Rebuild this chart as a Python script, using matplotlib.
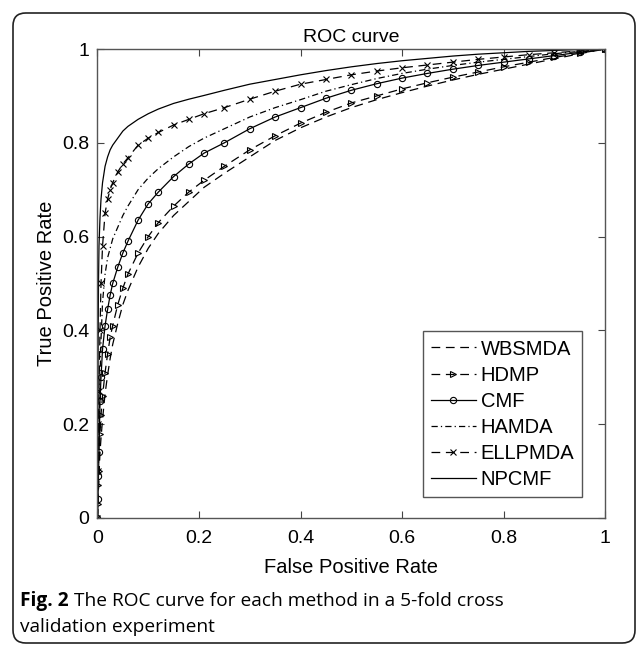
import numpy as np
import matplotlib
matplotlib.use("Agg")
import matplotlib.pyplot as plt
from matplotlib.patches import FancyBboxPatch

plt.rcParams['font.family'] = ['Liberation Sans', 'DejaVu Sans']

# false positive rate grid
fpr = [0, 0.001, 0.002, 0.003, 0.005, 0.007, 0.01, 0.015, 0.02, 0.025, 0.03,
       0.04, 0.05, 0.06, 0.08, 0.1, 0.12, 0.15, 0.18, 0.21, 0.25, 0.3, 0.35,
       0.4, 0.45, 0.5, 0.55, 0.6, 0.65, 0.7, 0.75, 0.8, 0.85, 0.9, 0.95, 1.0]

tpr_wbsmda = [0, 0.03, 0.06, 0.09, 0.14, 0.17, 0.21, 0.265, 0.305, 0.34, 0.37,
              0.415, 0.455, 0.485, 0.535, 0.575, 0.607, 0.645, 0.675, 0.705, 0.735, 0.77, 0.805,
              0.832, 0.855, 0.875, 0.892, 0.907, 0.921, 0.934, 0.946, 0.957, 0.968, 0.979, 0.99, 1.0]
tpr_hdmp = [0, 0.03, 0.07, 0.1, 0.18, 0.22, 0.26, 0.31, 0.35, 0.385, 0.41,
            0.455, 0.49, 0.52, 0.565, 0.6, 0.63, 0.665, 0.695, 0.72, 0.75, 0.785, 0.815,
            0.842, 0.865, 0.885, 0.9, 0.915, 0.928, 0.94, 0.951, 0.962, 0.972, 0.982, 0.991, 1.0]
tpr_cmf = [0, 0.04, 0.09, 0.14, 0.25, 0.3, 0.36, 0.41, 0.445, 0.475, 0.5,
           0.535, 0.565, 0.59, 0.635, 0.67, 0.695, 0.728, 0.755, 0.778, 0.8, 0.83, 0.855,
           0.875, 0.895, 0.912, 0.926, 0.938, 0.948, 0.957, 0.965, 0.972, 0.979, 0.986, 0.993, 1.0]
tpr_hamda = [0, 0.05, 0.12, 0.18, 0.3, 0.38, 0.46, 0.52, 0.555, 0.575, 0.595,
             0.62, 0.645, 0.665, 0.7, 0.725, 0.745, 0.77, 0.792, 0.81, 0.83, 0.855, 0.875,
             0.892, 0.91, 0.924, 0.937, 0.948, 0.957, 0.965, 0.972, 0.978, 0.984, 0.99, 0.995, 1.0]
tpr_ellpmda = [0, 0.1, 0.2, 0.27, 0.4, 0.5, 0.58, 0.65, 0.68, 0.7, 0.715,
               0.738, 0.755, 0.768, 0.795, 0.81, 0.822, 0.838, 0.85, 0.862, 0.875, 0.893, 0.91,
               0.925, 0.935, 0.945, 0.953, 0.96, 0.966, 0.972, 0.978, 0.983, 0.988, 0.992, 0.996, 1.0]
tpr_npcmf = [0, 0.3, 0.5, 0.58, 0.64, 0.68, 0.715, 0.75, 0.77, 0.785, 0.795,
             0.81, 0.825, 0.835, 0.85, 0.862, 0.872, 0.884, 0.893, 0.901, 0.912, 0.925, 0.935,
             0.945, 0.954, 0.962, 0.969, 0.975, 0.98, 0.985, 0.989, 0.992, 0.995, 0.997, 0.999, 1.0]

methods = ['WBSMDA', 'HDMP', 'CMF', 'HAMDA', 'ELLPMDA', 'NPCMF']
series = [tpr_wbsmda, tpr_hdmp, tpr_cmf, tpr_hamda, tpr_ellpmda, tpr_npcmf]
# MATLAB-like dash patterns
dash = (0, (7, 4.5))
dashdot = (0, (5, 2.5, 1, 2.5))
styles = [(dash, None), (dash, '>'), ('-', 'o'), (dashdot, None), (dash, 'x'), ('-', None)]

fig = plt.figure(figsize=(6.37, 6.45), dpi=100)
ax = fig.add_axes([0.153, 0.197, 0.797, 0.727])

for name, tpr, (ls, mk) in zip(methods, series, styles):
    ax.plot(fpr, tpr, linestyle=ls, marker=mk, color='black', lw=0.9,
            markersize=4.5, markerfacecolor='none', markeredgewidth=0.8,
            label=name)

ax.set_xlim(0, 1)
ax.set_ylim(0, 1)
ticks = [0, 0.2, 0.4, 0.6, 0.8, 1]
ticklabels = ['0', '0.2', '0.4', '0.6', '0.8', '1']
ax.set_xticks(ticks)
ax.set_xticklabels(ticklabels)
ax.set_yticks(ticks)
ax.set_yticklabels(ticklabels)
ax.tick_params(direction='in', length=5, width=0.8, top=True, right=True,
               labelsize=14, color='#444444')
ax.tick_params(axis='x', pad=9)
ax.tick_params(axis='y', pad=6)
for s in ax.spines.values():
    s.set_color('#555555')
    s.set_linewidth(1.0)

ax.set_xlabel('False Positive Rate', fontsize=14.5, va='center')
ax.set_ylabel('True Positive Rate', fontsize=14.5, va='center')
ax.xaxis.set_label_coords(0.5, -0.105)
ax.yaxis.set_label_coords(-0.0995, 0.5)
ax.set_title('ROC curve', fontsize=14, pad=5)

leg = ax.legend(loc='lower right', bbox_to_anchor=(0.955, 0.045), borderaxespad=0,
                fancybox=False, framealpha=1, edgecolor='#555555', fontsize=14.5,
                handlelength=2.2, handletextpad=0.25, labelspacing=0.35,
                borderpad=0.4, numpoints=1)
leg.get_frame().set_linewidth(1.0)

# caption and rounded border
border = FancyBboxPatch((13 / 637, 2 / 645), 622 / 637, 630 / 645,
                        boxstyle='round,pad=0,rounding_size=0.02',
                        transform=fig.transFigure, fill=False,
                        edgecolor='#222222', lw=1.2)
fig.add_artist(border)

cap_font = ['Open Sans', 'DejaVu Sans']
t1 = fig.text(20 / 637, 1 - 601 / 645, 'Fig. 2', fontsize=13.8, fontweight='bold',
              family=cap_font, va='center', ha='left')
ax.annotate(' The ROC curve for each method in a 5-fold cross', xy=(1, 0.5),
            xycoords=t1, va='center', ha='left', fontsize=13.8, family=cap_font,
            annotation_clip=False)
fig.text(20 / 637, 1 - 627 / 645, 'validation experiment', fontsize=13.8,
         family=cap_font, va='center', ha='left')

fig.savefig('out.png', dpi=100)
